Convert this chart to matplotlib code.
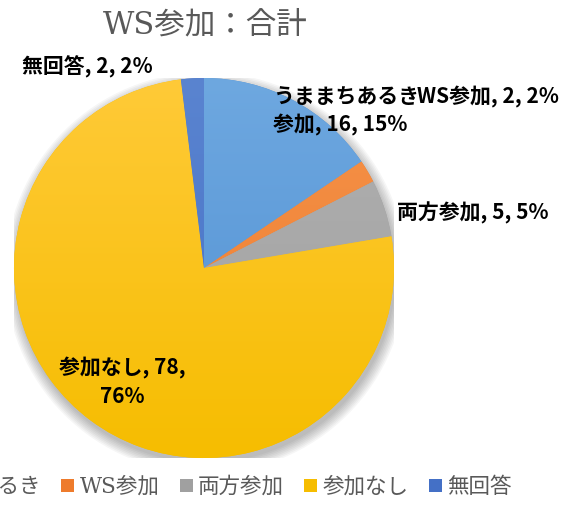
import numpy as np
import matplotlib.pyplot as plt
from matplotlib.colors import to_rgb
from matplotlib.patches import Circle, Patch

categories = ['うままちあるき参加', 'WS参加', '両方参加', '参加なし', '無回答']
legend_names = ['うままちあるき', 'WS参加', '両方参加', '参加なし', '無回答']
counts = [16, 2, 5, 78, 2]
percents = [15, 2, 5, 76, 2]
label_texts = ['うままちあるき\n参加, 16, 15%', 'WS参加, 2, 2%', '両方参加, 5, 5%',
               '参加なし, 78,\n76%', '無回答, 2, 2%']
title = 'WS参加：合計'

base_colors = ['#4f8fd2', '#ee7b2c', '#a0a0a0', '#f6bd00', '#4470c6']
top_colors = ['#6ea8e0', '#f5934a', '#b0b0b0', '#ffca38', '#5a84d0']

# label anchor positions in pie units (radius = 1) and alignments
label_pos = [(0.363, 0.826), (1.121, 0.90), (1.016, 0.289), (-0.432, -0.60), (-0.958, 1.058)]
label_ha = ['left', 'left', 'left', 'center', 'left']

dpi = 100
fig = plt.figure(figsize=(562 / dpi, 529 / dpi), dpi=dpi)
fig.set_facecolor('white')

cx, cy, r = 204, 268, 190
ax = fig.add_axes([(cx - r) / 562, (529 - cy - r) / 529, 2 * r / 562, 2 * r / 529])

# soft shadow under the pie
for k in range(8):
    ax.add_patch(Circle((0.01, -0.025), 1.0 + k * 0.008, color='black',
                        alpha=0.035, lw=0, zorder=0))

wedges, _ = ax.pie(counts, colors=base_colors, startangle=90, counterclock=False,
                   radius=1.0, wedgeprops=dict(linewidth=0, zorder=2))

# vertical gradient in each slice, lighter on top
grad = np.linspace(0, 1, 256)[:, None]
for w, c0, c1 in zip(wedges, top_colors, base_colors):
    a = np.array(to_rgb(c0))
    b = np.array(to_rgb(c1))
    img = a[None, None, :] * (1 - grad[..., None]) + b[None, None, :] * grad[..., None]
    img = np.repeat(img, 4, axis=1)
    im = ax.imshow(img, extent=(-1, 1, -1, 1), origin='upper', zorder=3,
                   interpolation='bilinear', aspect='auto')
    im.set_clip_path(w)

ax.set_xlim(-1, 1)
ax.set_ylim(-1, 1)
ax.set_aspect('auto')
ax.axis('off')

for txt, (x, y), ha in zip(label_texts, label_pos, label_ha):
    ax.text(x, y, txt, ha=ha, va='center', fontsize=15, fontweight='bold',
            family=['Noto Sans CJK JP', 'DejaVu Sans'], color='black',
            linespacing=1.4, zorder=5)

fig.text(205 / 562, 1 - 25 / 529, title, ha='center', va='center', fontsize=22,
         family=['DejaVu Serif', 'Noto Sans CJK JP'], color='#595959')

handles = [Patch(facecolor=c, edgecolor='none') for c in base_colors]
leg = fig.legend(handles, legend_names, ncol=5, loc='center right',
                 bbox_to_anchor=(512 / 562, 1 - 487 / 529), frameon=False,
                 prop={'family': ['DejaVu Serif', 'Noto Sans CJK JP'], 'size': 15.5},
                 handlelength=0.6, handleheight=0.6, handletextpad=0.25,
                 columnspacing=0.95, borderaxespad=0, borderpad=0)
for t in leg.get_texts():
    t.set_color('#595959')

plt.savefig('out.png', dpi=dpi)
